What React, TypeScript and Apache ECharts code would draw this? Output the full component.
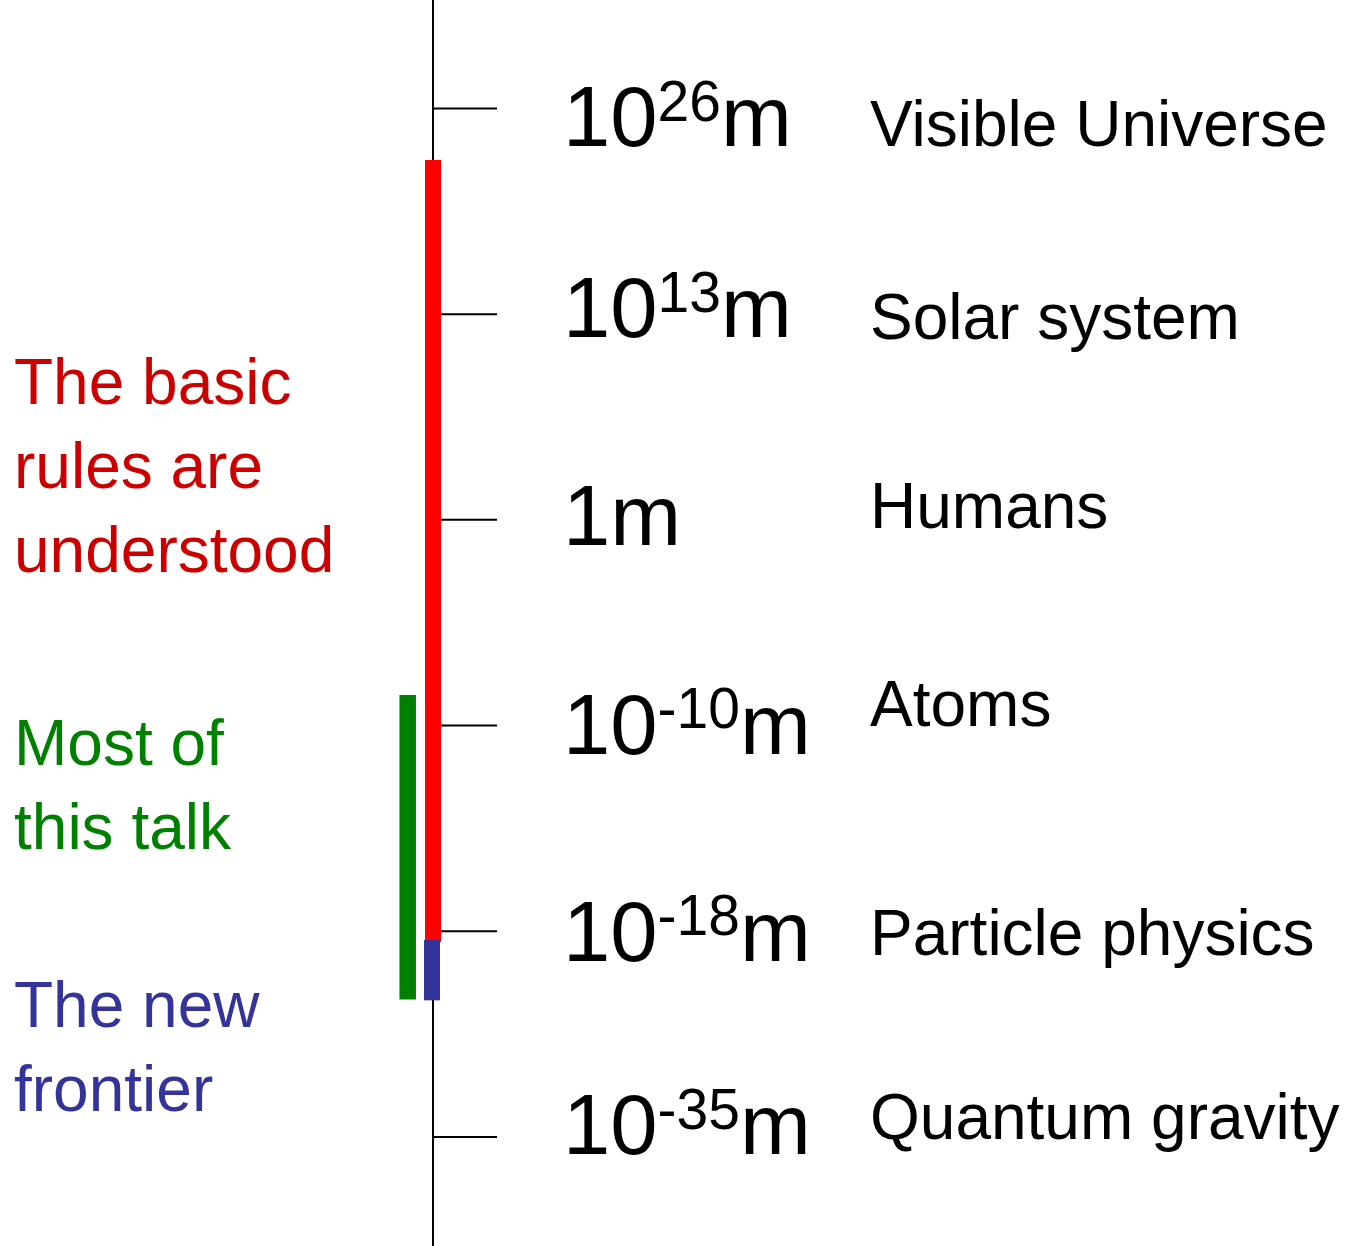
import React, { useEffect, useRef } from "react";
import * as echarts from "echarts";

// ---- data ----
const scaleIndex = [0, 1, 2, 3, 4, 5];
const scaleBase = ["10", "10", "1", "10", "10", "10"];
const scaleExp = ["26", "13", "", "-10", "-18", "-35"];
const scaleUnit = "m";
const scaleDesc = [
  "Visible Universe",
  "Solar system",
  "Humans",
  "Atoms",
  "Particle physics",
  "Quantum gravity",
];

// ranges on the scale (in units of scale rows, 0 = top row)
const rangeStart = [0.25, 2.851, 4.042];
const rangeEnd = [4.052, 4.332, 4.336];
const rangeColors = ["#ff0000", "#008000", "#333399"];

const annotationLines = [
  ["The basic", "rules are", "understood"],
  ["Most of", "this talk"],
  ["The new", "frontier"],
];
const annotationColors = ["#cc0000", "#008000", "#333399"];

// ---- layout ----
const W = 1345;
const H = 1246;
const AXIS_X = 432.5;
const Y_MIN = -0.5275;
const Y_MAX = 5.5305;
const FONT = '"Liberation Sans", Arial, Helvetica, sans-serif';
const MAIN_FS = 85;
const SUP_FS = 57;
const SUP_RISE = 25.5;
const DESC_FS = 64;
const ANNOT_FS = 64;
const CENTRAL = 0.3465; // fraction of font size from baseline to central line
const LABEL_DX = 130.5;
const DESC_DX = 437.5;
const TICK_LEN = 64.5;
const LINE_W = 2;
const labelDy = [37.5, 23, 25, 28, 29.5, 17];
const descDy = [38, 25, 8, 1, 23.5, 2];
const barDx = [0.5, -24.8, -0.5];
const barW = [16, 16.5, 16];
const annotBaselines = [404, 765, 1027];
const annotLineStep = 84;
const ANNOT_X = 14;

let measureCtx: CanvasRenderingContext2D | null = null;
function textWidth(t: string, fs: number): number {
  if (!measureCtx) {
    measureCtx = document.createElement("canvas").getContext("2d");
  }
  if (!measureCtx) return t.length * fs * 0.55;
  measureCtx.font = `${fs}px ${FONT}`;
  return measureCtx.measureText(t).width;
}

function txt(text: string, x: number, baseline: number, fs: number, fill: string) {
  return {
    type: "text",
    x,
    y: baseline - CENTRAL * fs,
    silent: true,
    style: {
      text,
      fill,
      fontSize: fs,
      fontFamily: FONT,
      align: "left",
      verticalAlign: "middle",
      textAlign: "left",
      textVerticalAlign: "middle",
    },
  };
}

export default function App() {
  const ref = useRef<HTMLDivElement>(null);

  useEffect(() => {
    if (!ref.current) return;
    const chart = echarts.init(ref.current, undefined, { renderer: "svg" });

    const barData = rangeStart.map((s, i) => [s, rangeEnd[i], i]);
    const rowData = scaleIndex.map((i) => [0, i]);

    const graphics: any[] = [];
    annotationLines.forEach((lines, gi) => {
      lines.forEach((line, li) => {
        graphics.push(
          txt(line, ANNOT_X, annotBaselines[gi] + li * annotLineStep, ANNOT_FS, annotationColors[gi])
        );
      });
    });

    const option: any = {
      animation: false,
      backgroundColor: "#ffffff",
      grid: { left: AXIS_X, right: 0, top: 0, bottom: 0, containLabel: false },
      xAxis: { type: "value", min: 0, max: 1, show: false },
      yAxis: {
        type: "value",
        inverse: true,
        min: Y_MIN,
        max: Y_MAX,
        axisLine: { show: true, lineStyle: { color: "#000000", width: LINE_W } },
        axisTick: { show: false },
        axisLabel: { show: false },
        splitLine: { show: false },
      },
      graphic: graphics,
      series: [
        {
          type: "custom",
          name: "rows",
          data: rowData,
          silent: true,
          renderItem: (params: any, api: any) => {
            const i = api.value(1);
            const p = api.coord([0, i]);
            const x = p[0];
            const y = p[1];
            const children: any[] = [
              {
                type: "line",
                shape: { x1: x, y1: y, x2: x + TICK_LEN, y2: y },
                style: { stroke: "#000000", lineWidth: LINE_W },
              },
            ];
            const base = y + labelDy[i];
            let cx = x + LABEL_DX;
            children.push(txt(scaleBase[i], cx, base, MAIN_FS, "#000000"));
            cx += textWidth(scaleBase[i], MAIN_FS);
            if (scaleExp[i]) {
              children.push(txt(scaleExp[i], cx, base - SUP_RISE, SUP_FS, "#000000"));
              cx += textWidth(scaleExp[i], SUP_FS);
            }
            children.push(txt(scaleUnit, cx, base, MAIN_FS, "#000000"));
            children.push(txt(scaleDesc[i], x + DESC_DX, y + descDy[i], DESC_FS, "#000000"));
            return { type: "group", children };
          },
        },
        {
          type: "custom",
          name: "ranges",
          data: barData,
          silent: true,
          renderItem: (params: any, api: any) => {
            const s = api.value(0);
            const e = api.value(1);
            const k = api.value(2);
            const p1 = api.coord([0, s]);
            const p2 = api.coord([0, e]);
            return {
              type: "rect",
              shape: {
                x: p1[0] + barDx[k] - barW[k] / 2,
                y: p1[1],
                width: barW[k],
                height: p2[1] - p1[1],
              },
              style: { fill: rangeColors[k] },
            };
          },
        },
      ],
    };

    chart.setOption(option);
    return () => chart.dispose();
  }, []);

  return (
    <div
      ref={ref}
      style={{ position: "fixed", left: 0, top: 0, width: W, height: H, background: "#ffffff" }}
    />
  );
}
